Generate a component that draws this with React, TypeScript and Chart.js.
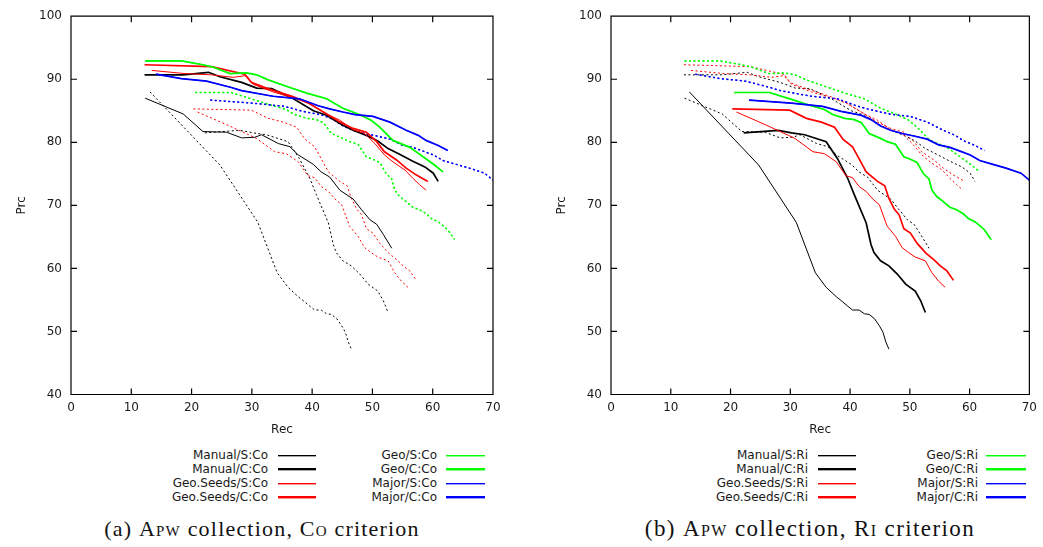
import React, { useEffect, useRef } from "react";
import { Chart, registerables } from "chart.js";
Chart.register(...registerables);

// ---------- axis ticks ----------
const recTicks = [0, 10, 20, 30, 40, 50, 60, 70];
const prcTicks = [40, 50, 60, 70, 80, 90, 100];

// ---------- series names ----------
const methodNames = ["Manual/S", "Manual/C", "Geo.Seeds/S", "Geo.Seeds/C", "Geo/S", "Geo/C", "Major/S", "Major/C"];

// ---------- Co criterion (Rec, Prc) ----------
const manualSCoRec = [12.3, 18.6, 21.9, 25.8, 28.3, 30.5, 31.6, 34.4, 36.3, 37.7, 40.2, 41.5, 42.9, 44.6, 46.8, 48.2, 49.6, 50.7, 51.8, 53.2];
const manualSCoPrc = [87.0, 84.5, 81.7, 81.6, 80.7, 80.8, 81.2, 79.8, 79.3, 78.0, 76.5, 75.3, 74.5, 72.4, 71.0, 69.3, 67.7, 67.0, 65.4, 63.2];
const manualCCoRec = [12.2, 18.6, 22.8, 24.7, 28.3, 30.8, 33.3, 36.9, 40.2, 42.4, 45.1, 46.8, 49.0, 50.9, 52.6, 54.5, 56.7, 58.7, 60.1, 60.9];
const manualCCoPrc = [90.7, 90.7, 91.1, 90.4, 89.5, 88.6, 88.5, 86.9, 85.0, 84.3, 82.7, 81.9, 81.1, 80.2, 79.0, 78.1, 77.0, 76.1, 75.1, 73.8];
const geoSeedsSCoRec = [13.4, 18.9, 23.3, 26.9, 29.1, 30.2, 33.5, 36.3, 39.1, 42.4, 44.6, 46.8, 48.7, 50.4, 52.0, 53.4, 55.4, 56.7, 57.8, 58.9];
const geoSeedsSCoPrc = [91.4, 90.9, 90.7, 90.3, 90.6, 89.2, 88.0, 87.2, 86.4, 84.5, 83.5, 82.0, 81.4, 79.8, 78.0, 76.9, 75.6, 74.3, 73.3, 72.4];
const geoSeedsCCoRec = [12.2, 23.3, 28.8, 29.9, 32.4, 36.9, 39.6, 42.4, 44.6, 46.8, 49.0, 50.7, 52.0, 54.0, 55.6, 57.3, 59.2];
const geoSeedsCCoPrc = [92.3, 92.0, 90.8, 89.5, 88.6, 87.2, 86.1, 84.5, 83.2, 82.2, 81.6, 80.1, 78.5, 77.2, 75.9, 74.8, 73.8];
const geoCoRec = [12.3, 18.3, 21.9, 23.6, 26.4, 29.1, 30.8, 32.7, 36.3, 39.1, 42.4, 45.1, 47.6, 49.8, 51.2, 53.4, 56.2, 58.4, 60.3, 61.7];
const geoCoPrc = [92.9, 92.9, 92.3, 91.9, 90.9, 91.0, 90.7, 89.9, 88.7, 87.8, 86.9, 85.4, 84.5, 83.5, 82.4, 80.3, 79.2, 77.7, 76.4, 75.3];
const majorCoRec = [14.1, 18.3, 22.5, 26.6, 28.3, 33.5, 37.9, 41.0, 42.9, 45.1, 47.1, 50.1, 52.9, 55.6, 57.6, 58.9, 60.9, 62.5];
const majorCoPrc = [90.8, 90.1, 89.7, 88.7, 88.2, 87.3, 86.9, 85.8, 85.3, 84.8, 84.4, 84.1, 83.2, 81.9, 81.1, 80.3, 79.5, 78.7];

// ---------- Ri criterion (Rec, Prc) ----------
const manualSRiRec = [13.1, 24.7, 31.0, 34.2, 36.0, 37.7, 38.5, 39.5, 40.4, 41.5, 42.4, 43.2, 44.1, 44.9, 45.5, 46.0, 46.5];
const manualSRiPrc = [88.0, 76.4, 67.3, 59.3, 57.0, 55.5, 54.9, 54.1, 53.4, 53.4, 52.8, 52.7, 52.0, 50.9, 49.9, 48.3, 47.2];
const manualCRiRec = [22.2, 28.0, 30.2, 32.4, 36.0, 37.9, 39.6, 40.7, 42.7, 43.5, 44.0, 45.1, 46.5, 47.9, 49.3, 50.9, 51.8, 52.6];
const manualCRiPrc = [81.5, 81.9, 81.5, 81.2, 80.1, 77.4, 74.3, 71.7, 67.2, 63.8, 62.5, 61.2, 60.4, 59.1, 57.5, 56.4, 54.9, 53.0];
const geoSeedsSRiRec = [21.0, 25.8, 29.7, 30.8, 33.8, 35.7, 37.7, 39.3, 40.4, 41.5, 42.7, 43.8, 44.9, 46.2, 47.6, 48.7, 49.8, 50.9, 52.6, 53.7, 54.8, 55.9];
const geoSeedsSRiPrc = [84.8, 82.8, 81.1, 80.6, 78.5, 78.2, 76.9, 74.7, 74.4, 73.0, 72.2, 71.0, 70.1, 66.7, 65.1, 63.3, 62.5, 61.8, 61.2, 59.3, 58.0, 57.0];
const geoSeedsCRiRec = [20.3, 29.9, 32.7, 35.2, 37.4, 38.8, 40.4, 41.5, 42.7, 44.6, 45.8, 46.5, 47.4, 48.2, 49.0, 50.1, 51.2, 52.6, 54.0, 55.1, 56.2, 57.3];
const geoSeedsCRiPrc = [85.3, 85.1, 83.8, 83.2, 82.4, 80.5, 79.3, 77.4, 75.3, 73.8, 73.1, 71.1, 69.4, 68.5, 66.3, 65.6, 64.0, 62.5, 61.4, 60.4, 59.6, 58.1];
const geoRiRec = [20.6, 26.5, 30.2, 33.5, 35.7, 37.1, 39.1, 40.7, 41.9, 43.2, 44.9, 46.2, 47.6, 49.0, 50.1, 51.2, 52.3, 53.2, 53.7, 54.5, 55.6, 56.7, 57.8, 58.9, 59.8, 60.9, 61.7, 62.5, 63.6];
const geoRiPrc = [87.9, 87.9, 86.8, 85.8, 85.2, 84.4, 83.8, 83.6, 83.1, 81.4, 80.7, 80.1, 79.7, 77.7, 77.3, 76.8, 75.0, 74.2, 72.4, 71.4, 70.6, 69.7, 69.3, 68.7, 67.9, 67.4, 66.8, 66.1, 64.6];
const majorRiRec = [23.1, 30.2, 35.4, 38.5, 41.8, 43.5, 45.1, 46.8, 48.7, 50.7, 52.9, 54.8, 56.7, 58.4, 60.1, 61.7, 63.9, 66.1, 68.6, 70.0];
const majorRiPrc = [86.7, 86.2, 85.7, 84.9, 84.3, 83.6, 82.6, 81.9, 81.4, 81.0, 80.5, 79.6, 79.2, 78.6, 78.0, 77.1, 76.5, 75.9, 75.1, 74.0];

const coRec = [manualSCoRec, manualCCoRec, geoSeedsSCoRec, geoSeedsCCoRec, geoCoRec, geoCoRec, majorCoRec, majorCoRec];
const coPrc = [manualSCoPrc, manualCCoPrc, geoSeedsSCoPrc, geoSeedsCCoPrc, geoCoPrc, geoCoPrc, majorCoPrc, majorCoPrc];
const riRec = [manualSRiRec, manualCRiRec, geoSeedsSRiRec, geoSeedsCRiRec, geoRiRec, geoRiRec, majorRiRec, majorRiRec];
const riPrc = [manualSRiPrc, manualCRiPrc, geoSeedsSRiPrc, geoSeedsCRiPrc, geoRiPrc, geoRiPrc, majorRiPrc, majorRiPrc];

// ---------- styles ----------
const seriesColors = ["#000000", "#000000", "#ff0000", "#ff0000", "#00ff00", "#00ff00", "#0000ff", "#0000ff"];
const seriesFaint = ["rgba(0,0,0,0.35)", "rgba(0,0,0,0.35)", "rgba(255,0,0,0.4)", "rgba(255,0,0,0.4)", "rgba(0,255,0,0.45)", "rgba(0,255,0,0.45)", "rgba(0,0,255,0.4)", "rgba(0,0,255,0.4)"];
const seriesWidths = [1, 1.7, 1, 1.7, 1, 1.7, 1, 1.7];
const dottedWidths = [1, 1, 1, 1, 1, 1.5, 1, 1.5];

const TEXT = "#1a1a1a";
const SANS = "'DejaVu Sans', sans-serif";

const toPoints = (xs: number[], ys: number[]) => xs.map((x, i) => ({ x, y: ys[i] }));

const framePlugin = {
  id: "gnuFrame",
  afterDatasetsDraw(chart: any) {
    const { ctx, chartArea, scales } = chart;
    const { left, right, top, bottom } = chartArea;
    ctx.save();
    ctx.strokeStyle = "#000";
    ctx.lineWidth = 1.2;
    ctx.beginPath();
    ctx.rect(left, top, right - left, bottom - top);
    const tl = 6;
    for (const v of recTicks) {
      const px = scales.x.getPixelForValue(v);
      ctx.moveTo(px, bottom);
      ctx.lineTo(px, bottom - tl);
      ctx.moveTo(px, top);
      ctx.lineTo(px, top + tl);
    }
    for (const v of prcTicks) {
      const py = scales.y.getPixelForValue(v);
      ctx.moveTo(left, py);
      ctx.lineTo(left + tl, py);
      ctx.moveTo(right, py);
      ctx.lineTo(right - tl, py);
    }
    ctx.stroke();
    ctx.restore();
  },
};

type PanelProps = {
  crit: "Co" | "Ri";
  left: number;
  width: number;
  padRight: number;
};

function Panel({ crit, left, width, padRight }: PanelProps) {
  const ref = useRef<HTMLCanvasElement | null>(null);
  useEffect(() => {
    if (!ref.current) return;
    const mainRec = crit === "Co" ? coRec : riRec;
    const mainPrc = crit === "Co" ? coPrc : riPrc;
    const otherRec = crit === "Co" ? riRec : coRec;
    const otherPrc = crit === "Co" ? riPrc : coPrc;
    const otherCrit = crit === "Co" ? "Ri" : "Co";
    const solid: any[] = methodNames.map((n, i) => ({
      label: `${n}:${crit}`,
      data: toPoints(mainRec[i], mainPrc[i]),
      borderColor: seriesColors[i],
      borderWidth: seriesWidths[i],
      pointRadius: 0,
      tension: 0,
      fill: false,
    }));
    const dotted: any[] = methodNames.map((n, i) => ({
      label: `${n}:${otherCrit}`,
      data: toPoints(otherRec[i], otherPrc[i]),
      borderColor: seriesColors[i],
      borderWidth: dottedWidths[i],
      borderDash: [2, 2.5],
      pointRadius: 0,
      tension: 0,
      fill: false,
    }));
    // later gnuplot series on top: Chart.js draws index 0 on top
    const datasets = [...solid.slice().reverse(), ...dotted.slice().reverse()];
    const chart = new Chart(ref.current, {
      type: "line",
      data: { datasets },
      plugins: [framePlugin],
      options: {
        animation: false,
        responsive: false,
        layout: { padding: { left: 0, right: padRight, top: 13, bottom: 0 } },
        plugins: { legend: { display: false }, tooltip: { enabled: false } },
        scales: {
          x: {
            type: "linear",
            min: 0,
            max: 70,
            afterBuildTicks: (s: any) => {
              s.ticks = recTicks.map((v) => ({ value: v }));
            },
            afterFit: (s: any) => {
              s.height = 50.5;
            },
            grid: { display: false, drawTicks: false },
            border: { display: false },
            ticks: { color: TEXT, font: { family: SANS, size: 12 }, padding: 6, maxRotation: 0 },
            title: {
              display: true,
              text: "Rec",
              color: TEXT,
              font: { family: SANS, size: 12 },
              padding: { top: 0, bottom: 8 },
            },
          },
          y: {
            type: "linear",
            min: 40,
            max: 100,
            afterBuildTicks: (s: any) => {
              s.ticks = prcTicks.map((v) => ({ value: v }));
            },
            afterFit: (s: any) => {
              s.width = 71;
            },
            grid: { display: false, drawTicks: false },
            border: { display: false },
            ticks: { color: TEXT, font: { family: SANS, size: 12 }, padding: 9 },
            title: {
              display: true,
              text: "Prc",
              color: TEXT,
              font: { family: SANS, size: 12 },
              padding: { top: 15, bottom: 0 },
            },
          },
        },
      },
    } as any);
    return () => chart.destroy();
  }, [crit, padRight]);
  return (
    <canvas
      ref={ref}
      width={width}
      height={445}
      style={{ position: "absolute", left, top: 0, width, height: 445 }}
    />
  );
}

type LegendProps = {
  crit: "Co" | "Ri";
  col1TextRight: number;
  col1Line: [number, number];
  col2TextRight: number;
  col2Line: [number, number];
};

const legendRowsY = [455, 469, 483, 497];

function Legend({ crit, col1TextRight, col1Line, col2TextRight, col2Line }: LegendProps) {
  const items = methodNames.map((n, i) => {
    const col = i < 4 ? 0 : 1;
    const row = i % 4;
    const textRight = col === 0 ? col1TextRight : col2TextRight;
    const line = col === 0 ? col1Line : col2Line;
    const y = legendRowsY[row];
    const thick = i % 2 === 1;
    return (
      <React.Fragment key={`${n}-${crit}`}>
        <div
          style={{
            position: "absolute",
            left: textRight - 200,
            width: 200,
            top: y - 8,
            height: 16,
            lineHeight: "16px",
            textAlign: "right",
            fontFamily: SANS,
            fontSize: 12,
            color: TEXT,
            whiteSpace: "nowrap",
          }}
        >
          {`${n}:${crit}`}
        </div>
        <div
          style={{
            position: "absolute",
            left: line[0],
            width: line[1] - line[0],
            top: thick ? y - 1 : y,
            height: thick ? 2 : 1,
            backgroundColor: seriesColors[i],
          }}
        />
        <div
          style={{
            position: "absolute",
            left: line[0],
            width: line[1] - line[0],
            top: thick ? y + 1 : y + 1,
            height: 1,
            backgroundColor: seriesFaint[i],
          }}
        />
      </React.Fragment>
    );
  });
  return <>{items}</>;
}

function Caption({ label, crit, center, size, spacing }: { label: string; crit: string; center: number; size: number; spacing: number }) {
  return (
    <div
      style={{
        position: "absolute",
        left: center - 250,
        width: 500,
        top: 516,
        height: 26,
        lineHeight: "26px",
        textAlign: "center",
        fontFamily: "'Liberation Serif', 'DejaVu Serif', serif",
        fontSize: size,
        letterSpacing: `${spacing}px`,
        color: "#111",
        whiteSpace: "nowrap",
      }}
    >
      {`(${label}) `}
      <span style={{ fontVariant: "small-caps" }}>Apw</span>
      {" collection, "}
      <span style={{ fontVariant: "small-caps" }}>{crit}</span>
      {" criterion"}
    </div>
  );
}

export default function App() {
  return (
    <div
      style={{
        position: "absolute",
        left: 0,
        top: 0,
        width: 1043,
        height: 547,
        background: "#fff",
        overflow: "hidden",
      }}
    >
      <Panel crit="Co" left={0} width={530} padRight={37} />
      <Panel crit="Ri" left={540} width={503} padRight={10} />
      <Legend crit="Co" col1TextRight={268} col1Line={[278, 316]} col2TextRight={437} col2Line={[446, 485]} />
      <Legend crit="Ri" col1TextRight={808} col1Line={[818, 856]} col2TextRight={978} col2Line={[986, 1026]} />
      <Caption label="a" crit="Co" center={262} size={22} spacing={1.2} />
      <Caption label="b" crit="Ri" center={810} size={23} spacing={1.4} />
    </div>
  );
}
